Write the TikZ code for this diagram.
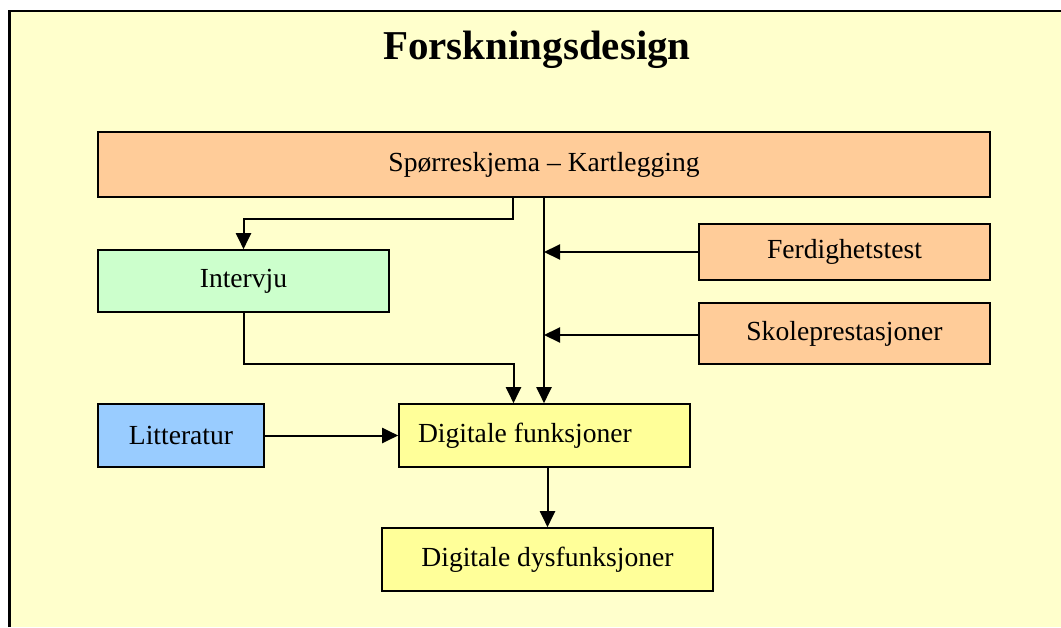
\documentclass[tikz,border=0pt]{standalone}
\usepackage{fontspec}
\setmainfont{Liberation Serif}
\usetikzlibrary{arrows.meta}
\definecolor{bgyellow}{HTML}{FFFFCC}
\definecolor{orangebox}{HTML}{FFCC99}
\definecolor{greenbox}{HTML}{CCFFCC}
\definecolor{bluebox}{HTML}{99CCFF}
\definecolor{yellowbox}{HTML}{FFFF99}
\begin{document}
\begin{tikzpicture}[x=1pt,y=-1pt,
  box/.style={draw=black,line width=1.6pt,inner sep=0pt,font=\fontsize{27.6}{33}\selectfont},
  arr/.style={line width=2pt,-{Triangle[length=16pt,width=15pt]}}]
\useasboundingbox (0,0) rectangle (1061,627);
\fill[white] (0,0) rectangle (1061,627);
\fill[bgyellow] (9.5,11) rectangle (1061,627);
\draw[line width=2.2pt] (9.5,627) -- (9.5,11) -- (1061,11);
\node[anchor=base,font=\bfseries\fontsize{41}{48}\selectfont] (title) at (537,59) {Forskningsdesign};
\node[box,fill=orangebox,minimum width=892pt,minimum height=65pt] (sp) at (544,164.5) {Spørreskjema – Kartlegging};
\node[box,fill=greenbox,minimum width=291pt,minimum height=62pt] (iv) at (243.5,281) {Intervju};
\node[box,fill=orangebox,minimum width=291pt,minimum height=56pt] (ft) at (844.5,252) {Ferdighetstest};
\node[box,fill=orangebox,minimum width=291pt,minimum height=61pt] (sk) at (844.5,333.5) {Skoleprestasjoner};
\node[box,fill=bluebox,minimum width=166pt,minimum height=63pt] (lit) at (181,435.5) {Litteratur};
\node[box,fill=yellowbox,minimum width=291pt,minimum height=63pt,text width=253pt,align=flush left] (df) at (544.5,435.5) {Digitale funksjoner};
\node[box,fill=yellowbox,minimum width=331pt,minimum height=63pt] (dd) at (547.5,559.5) {Digitale dysfunksjoner};
\draw[arr] ([xshift=-31pt]sp.south) -- ++(0,21) -| (iv.north);
\draw[arr] (sp.south) -- (sp.south |- df.north);
\draw[arr] (ft.west) -- (ft.west -| sp.south);
\draw[arr] ([yshift=-1.5pt]sk.west) -- ([yshift=-1.5pt]sk.west -| sp.south);
\draw[arr] (iv.south) -- ++(0,51) -| ([xshift=-31pt]df.north);
\draw[arr] (lit.east) -- (lit.east -| df.west);
\draw[arr] (dd.north |- df.south) -- (dd.north);
\end{tikzpicture}
\end{document}
